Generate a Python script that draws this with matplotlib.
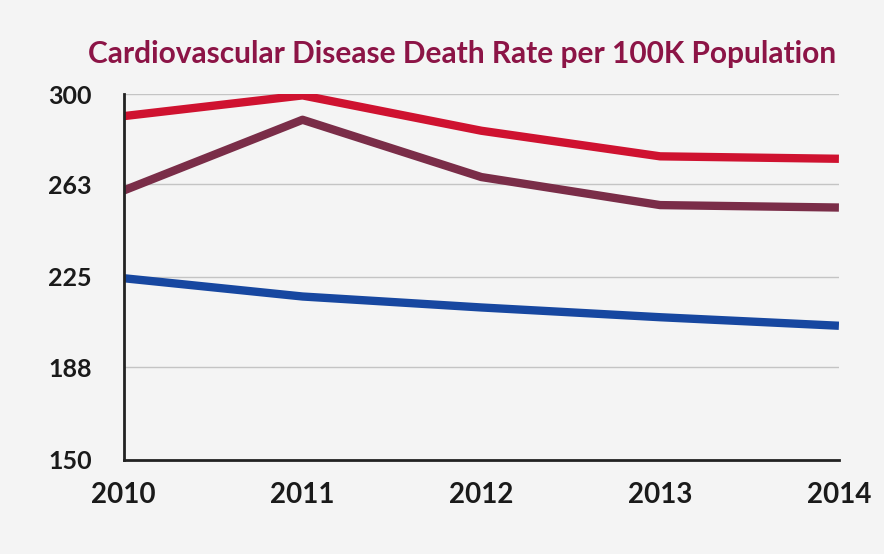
import numpy as np
import matplotlib.pyplot as plt

years = [2010, 2011, 2012, 2013, 2014]
red_rate = [291, 299.5, 285, 274.5, 273.5]
mauve_rate = [260.5, 289.5, 266, 254.5, 253.5]
blue_rate = [224.5, 217, 212.5, 208.5, 205]
y_ticks = [150, 188, 225, 263, 300]

plt.rcParams['font.family'] = ['Lato', 'DejaVu Sans']

fig = plt.figure(figsize=(8.84, 5.54), dpi=100, facecolor='#f4f4f4')
ax = fig.add_axes([0.140, 0.170, 0.809, 0.660])
ax.set_facecolor('#f4f4f4')

for y in y_ticks[1:]:
    ax.axhline(y, color='#c4c4c4', lw=1.0, zorder=1)

ax.plot(years, red_rate, color='#cf1230', lw=6, solid_capstyle='butt', zorder=3)
ax.plot(years, mauve_rate, color='#7a2d48', lw=6, solid_capstyle='butt', zorder=3)
ax.plot(years, blue_rate, color='#1747a0', lw=6, solid_capstyle='butt', zorder=3)

ax.set_xlim(2010, 2014)
ax.set_ylim(150, 300)
ax.set_yticks(y_ticks)
ax.set_xticks(years)
ax.tick_params(axis='y', length=0, pad=23, labelsize=18, labelcolor='#1a1a1a')
ax.tick_params(axis='x', length=0, pad=16, labelsize=20, labelcolor='#1a1a1a')
for lab in ax.get_xticklabels() + ax.get_yticklabels():
    lab.set_fontweight('bold')

for s in ['top', 'right']:
    ax.spines[s].set_visible(False)
for s in ['left', 'bottom']:
    ax.spines[s].set_color('#222222')
    ax.spines[s].set_linewidth(2)
    ax.spines[s].set_zorder(4)

fig.text(0.523, 0.903, 'Cardiovascular Disease Death Rate per 100K Population',
         ha='center', va='center', fontsize=21.5, fontweight='bold', color='#8c1446')

fig.savefig('out.png', dpi=100, facecolor=fig.get_facecolor())
